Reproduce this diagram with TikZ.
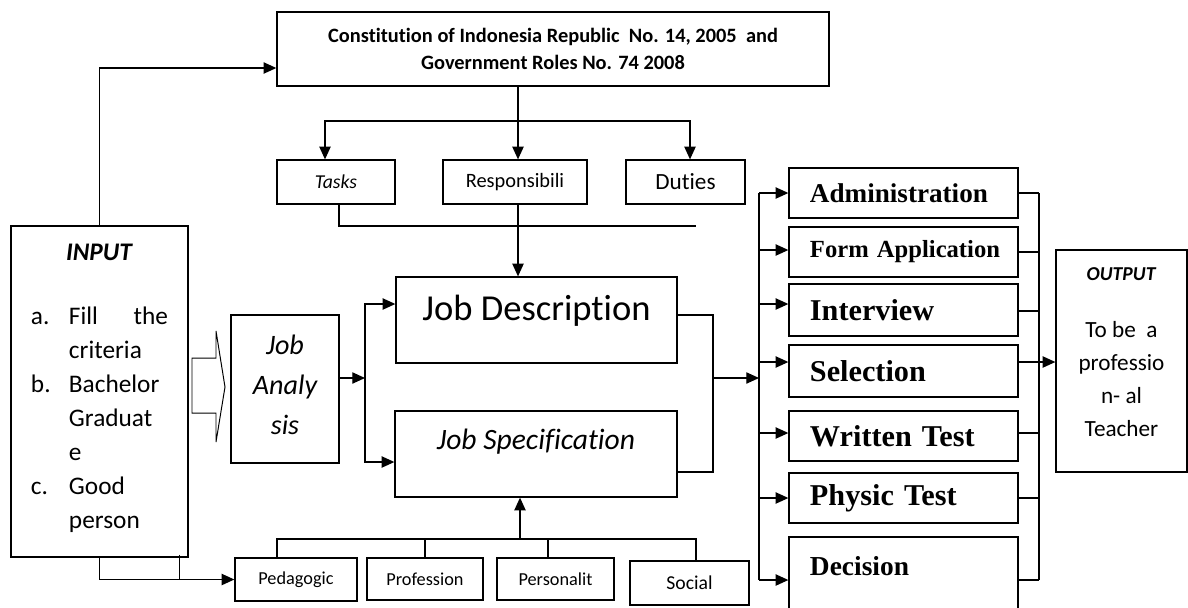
\documentclass[tikz,border=0pt]{standalone}
\usepackage{fontspec}
\setmainfont{Carlito}[Ligatures=NoCommon]
\newfontfamily\timesfont{Liberation Serif}
\usetikzlibrary{shapes,arrows,arrows.meta}
\tikzstyle{block} = [rectangle, draw, line width=0.9pt, inner sep=0pt, text centered]
\tikzstyle{minor} = [block, minimum height=1.1cm]
\tikzstyle{stage} = [block, minimum width=5.725cm, text width=4.675cm, align=left,
    font=\timesfont\bfseries\fontsize{21.5}{24}\selectfont]
\tikzstyle{line} = [draw, line width=0.9pt, -{Triangle[length=9pt,width=8pt]}]
\tikzstyle{wire} = [draw, line width=0.9pt]

\begin{document}
\begin{tikzpicture}[x=0.025cm, y=-0.025cm]
        \useasboundingbox (0,0) rectangle (1188,607);

        % Place nodes
        \node [block, minimum width=13.8cm, minimum height=1.85cm, align=center,
            font=\bfseries\fontsize{14.5}{19.2}\selectfont] (law) at (553,49)
            {Constitution of Indonesia Republic\ \ No. 14, 2005\ \ and\\Government Roles No. 74 2008};
        \node [minor, minimum width=2.95cm, font=\itshape\fontsize{14}{16}\selectfont] (tasks) at (336,182) {Tasks};
        \node [minor, minimum width=3.6cm, font=\fontsize{14.5}{16}\selectfont] (resp) at (515,182) {Responsibili};
        \node [minor, minimum width=2.975cm, font=\fontsize{16.5}{18}\selectfont] (duties) at (685.5,182) {Duties};

        \node [block, minimum width=4.425cm, minimum height=8.275cm, align=center,
            font=\fontsize{18}{24.2}\selectfont] (input) at (99.5,391.5)
            {\textbf{\textit{INPUT}}\\[0.73cm]
            \begin{tabular}[t]{@{}p{0.95cm}@{}p{2.475cm}@{}}
            a. & Fill\hfill the\\ & criteria\\ b. & Bachelor\\ & Graduat\\ & e\\ c. & Good\\ & person
            \end{tabular}};
        \node [block, minimum width=2.7cm, minimum height=3.7cm, align=center, text depth=0.2cm,
            font=\itshape\fontsize{20}{28.5}\selectfont] (analysis) at (285,389) {Job\\Analy\\sis};
        \node [block, minimum width=7.025cm, minimum height=2.15cm, text depth=0.6cm,
            font=\fontsize{26}{30}\selectfont] (jobdesc) at (536.5,320) {Job Description};
        \node [block, minimum width=7.05cm, minimum height=2.15cm, text depth=0.75cm,
            font=\itshape\fontsize{21}{25}\selectfont] (jobspec) at (536,454) {Job Specification};

        \node [block, minimum width=3.05cm, minimum height=1.075cm, font=\fontsize{13}{15}\selectfont] (ped) at (296,579.5) {Pedagogic};
        \node [block, minimum width=2.9cm, minimum height=1.05cm, font=\fontsize{13}{15}\selectfont] (prof) at (425,579) {Profession};
        \node [block, minimum width=2.925cm, minimum height=1.05cm, font=\fontsize{13}{15}\selectfont] (pers) at (555.5,579) {Personalit};
        \node [minor, minimum width=2.975cm, font=\fontsize{14}{16}\selectfont] (social) at (689.5,583) {Social};

        \node [stage, minimum height=1.25cm, font=\timesfont\bfseries\fontsize{19.3}{22}\selectfont] (admin) at (903.5,193) {Administration};
        \node [stage, minimum height=1.25cm, font=\timesfont\bfseries\fontsize{17.5}{20}\selectfont] (form) at (903.5,252) {\mbox{Form Application}};
        \node [stage, minimum height=1.3cm] (interview) at (903.5,310) {Interview};
        \node [stage, minimum height=1.3cm] (selection) at (903.5,371) {Selection};
        \node [stage, minimum height=1.25cm] (written) at (903.5,436) {Written Test};
        \node [stage, minimum height=1.25cm] (physic) at (903.5,498) {Physic Test};
        \node [stage, minimum height=2.075cm, text depth=0.625cm,
            font=\timesfont\bfseries\fontsize{19.5}{22}\selectfont] (decision) at (903.5,578.5) {Decision};

        \node [block, minimum width=3.275cm, minimum height=5.55cm, align=center, text depth=0.45cm,
            font=\fontsize{16.5}{23.5}\selectfont] (output) at (1121.5,361)
            {{\fontsize{14}{16}\selectfont\textbf{\textit{OUTPUT}}}\\[0.6cm]To be\ \ a\\professio\\n- al\\Teacher};

        \coordinate (split) at (518,121);
        \coordinate (tasksend) at (696,226);
        \coordinate (jasplit) at (365,378);
        \coordinate (jmerge) at (713,378);
        \coordinate (busL) at (759,378);
        \coordinate (busR) at (1039,362);
        \coordinate (cbus) at (520,539);

        % Draw edges
        \path [line] (input.north) |- ([yshift=-0.475cm]law.west);
        \path [wire] (law.south -| split) -- (split);
        \path [line] (split) -| ([xshift=-0.275cm]tasks.north);
        \path [line] (split) -- (split |- resp.north);
        \path [line] (split) -| ([xshift=0.1125cm]duties.north);
        \path [wire] ([xshift=0.075cm]tasks.south) |- (tasksend);
        \path [line] (split |- resp.south) -- (split |- jobdesc.north);

        % hollow arrow into job analysis
        \draw [line width=0.7pt] (192,358) -- (216,358) -- (216,331) -- (225,387)
            -- (216,442) -- (216,413) -- (192,413) -- cycle;

        \path [line] (analysis.east |- jasplit) -- (jasplit);
        \path [line] (jasplit) |- ([yshift=0.4cm]jobdesc.west);
        \path [line] (jasplit) |- ([yshift=-0.2cm]jobspec.west);
        \path [wire] ([yshift=0.125cm]jobdesc.east) -| (jmerge);
        \path [wire] ([yshift=-0.45cm]jobspec.east) -| (jmerge);
        \path [line] (jmerge) -- (busL);

        \path [wire] (admin.west -| busL) -- ([yshift=-0.0375cm]decision.west -| busL);
        \path [wire] (admin.east -| busR) -- ([yshift=-0.0375cm]decision.east -| busR);
        \foreach \b/\ya/\yb in {admin/0/0, form/0.05/0, interview/0.15/-0.025, selection/0.225/0.225,
            written/0.075/0.075, physic/0/0, decision/-0.0375/-0.0375} {
            \path [line] ([yshift=\ya cm]\b.west -| busL) -- ([yshift=\ya cm]\b.west);
            \path [wire] ([yshift=\yb cm]\b.east) -- ([yshift=\yb cm]\b.east -| busR);
        }
        \path [line] (busR) -- (output.west |- busR);

        \path [line] (input.south) |- (ped.west);
        \path [wire] ([xshift=-0.225cm,yshift=0.075cm]input.south east) -- ([xshift=-0.225cm]input.south east |- ped.west);
        \path [wire] ([xshift=-0.475cm]ped.north) |- (cbus) -| ([xshift=0.1625cm]social.north);
        \path [wire] (prof.north) -- (prof.north |- cbus);
        \path [wire] ([xshift=-0.1875cm]pers.north) -- ([xshift=-0.1875cm]pers.north |- cbus);
        \path [line] (cbus) -- (cbus |- jobspec.south);
    \end{tikzpicture}
\end{document}
